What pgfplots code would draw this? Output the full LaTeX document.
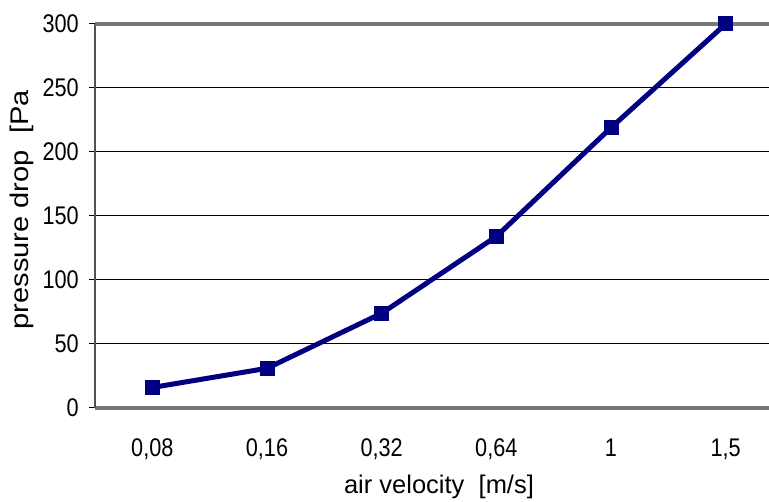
\documentclass[border=0pt]{standalone}
\usepackage{pgfplots}
\pgfplotsset{compat=1.18}
\usepackage{fontspec}
\setmainfont{Liberation Sans}
\newfontfamily\tickfont{Liberation Sans}[FakeStretch=0.85]
\newfontfamily\ylabfont{Liberation Sans}[FakeStretch=1.14]
\definecolor{linenavy}{RGB}{0,0,128}
\definecolor{axgray}{RGB}{120,120,120}
\definecolor{axdark}{RGB}{80,80,80}

\pgfplotstableread{
x y
0 16
1 31
2 74
3 134
4 219
5 300
}\pressuredrop

\begin{document}
\begin{tikzpicture}[x=1bp,y=1bp]
\useasboundingbox (0,0) rectangle (769,502);
\clip (0,0) rectangle (769,502);
\begin{axis}[
  at={(95bp,94bp)}, anchor=south west,
  scale only axis,
  width=688bp, height=384bp,
  xmin=-0.5, xmax=5.5,
  ymin=0, ymax=300,
  axis x line*=bottom, axis y line*=left,
  x axis line style={-, draw=axgray, line width=3.5bp},
  y axis line style={-, draw=axdark, line width=2.5bp},
  xtick={0,...,5},
  xticklabels={{0,08},{0,16},{0,32},{0,64},{1},{1,5}},
  minor xtick={-0.5,0.5,...,5.5},
  xtick style={draw=none},
  minor x tick style={black, line width=1bp},
  minor tick length=7bp,
  ytick={0,50,...,300},
  ytick style={black, line width=1bp},
  major tick length=6bp,
  tick align=outside,
  ymajorgrids,
  grid style={black, line width=1bp},
  extra y ticks={300},
  extra y tick labels={},
  extra y tick style={grid style={axgray, line width=3.5bp}, major tick length=0pt},
  /pgf/number format/assume math mode=true,
  ticklabel style={font=\tickfont\fontsize{25.5bp}{27bp}\selectfont},
  yticklabel style={anchor=east, inner sep=0pt, xshift=-10bp},
  xticklabel style={anchor=base, inner sep=0pt, yshift=-43bp},
  xlabel={air velocity\ \ [m/s]},
  xlabel style={at={(axis description cs:0.5,0)}, anchor=base, yshift=-86bp,
    font=\fontsize{25.5bp}{28bp}\selectfont, inner sep=0pt},
  ylabel={pressure drop\ \ [Pa},
  ylabel style={at={(axis description cs:-0.106,0.516)}, anchor=center, rotate=0,
    font=\ylabfont\fontsize{25.5bp}{28bp}\selectfont, inner sep=0pt},
]
\addplot[linenavy, line width=5bp, mark=square*, mark size=7bp,
  mark options={fill=linenavy, draw=linenavy, line width=0pt}] table[x=x,y=y] {\pressuredrop};
\end{axis}
\end{tikzpicture}
\end{document}
